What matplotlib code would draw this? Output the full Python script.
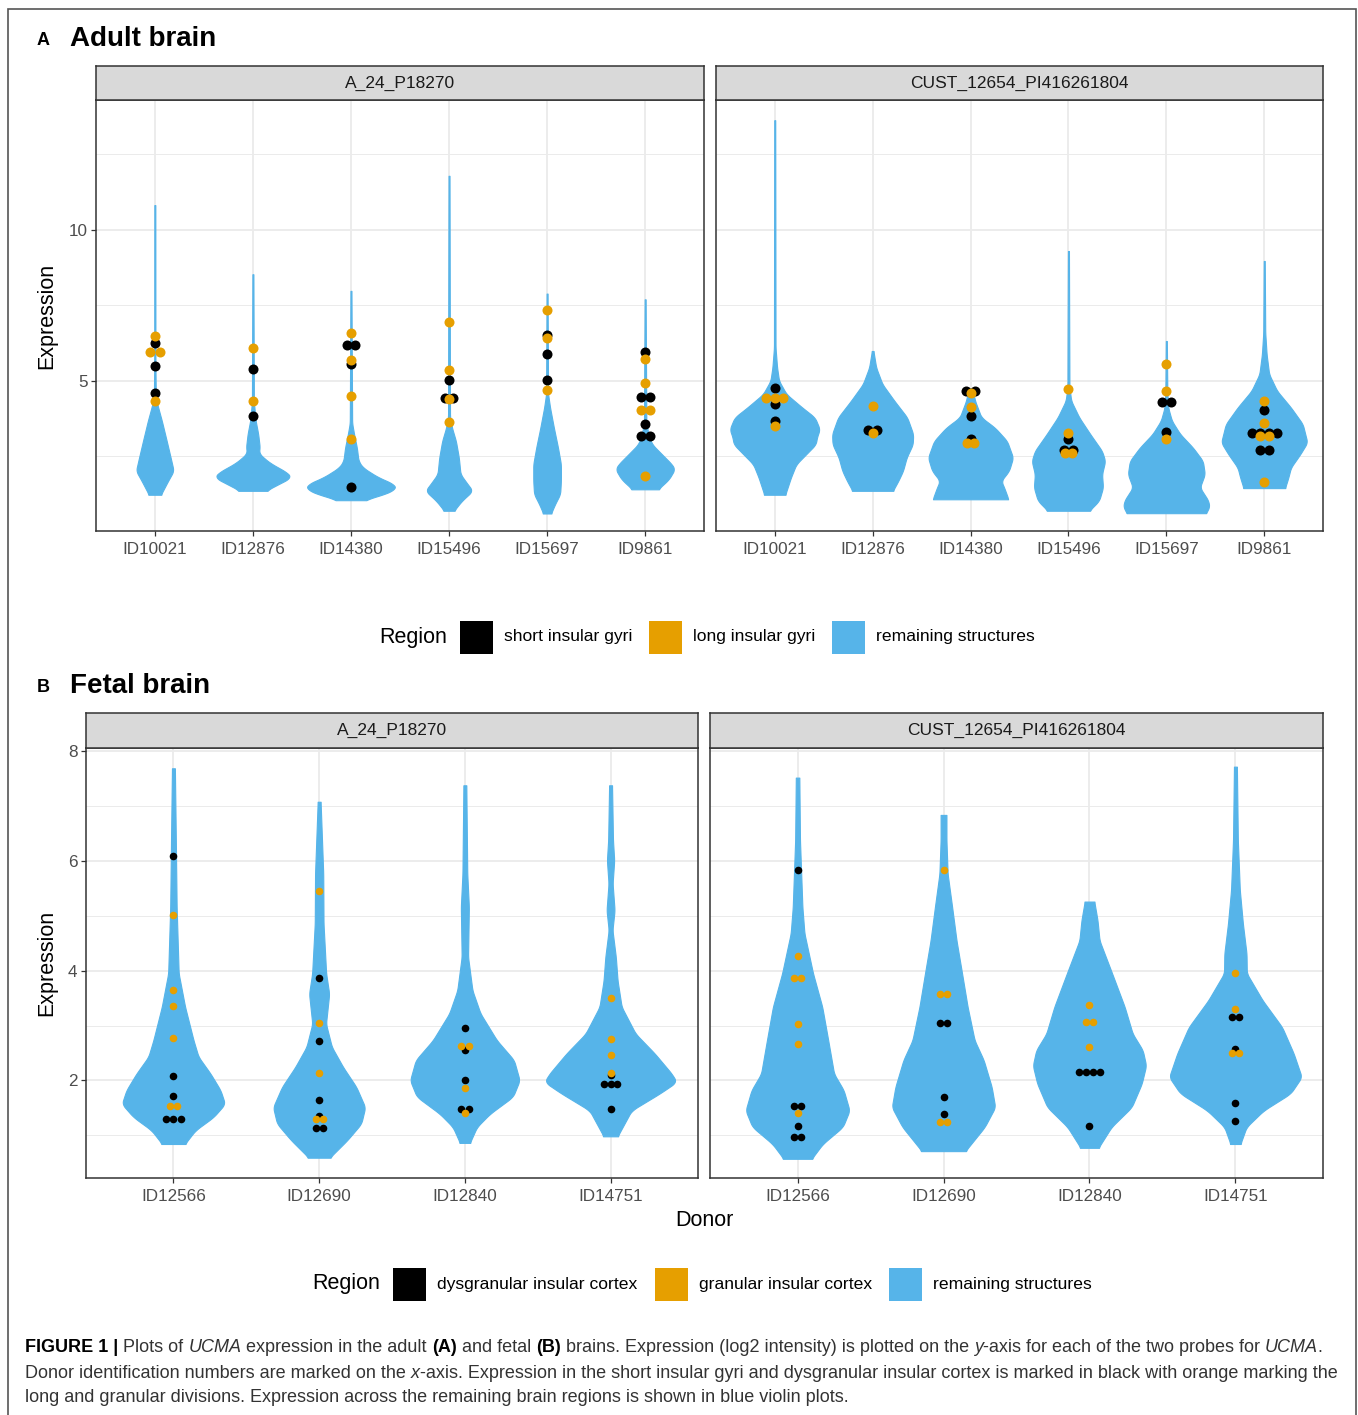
import matplotlib
matplotlib.use("Agg")
import matplotlib.pyplot as plt
from matplotlib.patches import Rectangle
import numpy as np

plt.rcParams['font.family'] = ['Liberation Sans', 'DejaVu Sans']

W, H = 1358, 1415
BLUE = '#56B4E9'
ORANGE = '#E69F00'
BLACK = '#000000'

probes = ["A_24_P18270", "CUST_12654_PI416261804"]
adult_donors = ["ID10021", "ID12876", "ID14380", "ID15496", "ID15697", "ID9861"]
fetal_donors = ["ID12566", "ID12690", "ID12840", "ID14751"]

# violin outlines: (expression, half width in category units)
adult_violin_p1 = [
    [(1.23, .061), (1.69, .135), (2.02, .192), (2.46, .161), (3.01, .121), (3.68, .071), (4.12, .034), (4.45, .01), (5.5, .006), (10.82, .005)],
    [(1.36, .131), (1.63, .29), (1.80, .393), (1.96, .353), (2.29, .171), (2.6, .06), (2.79, .07), (3.24, .054), (3.68, .028), (4.3, .01), (8.53, .005)],
    [(1.05, .12), (1.19, .29), (1.41, .458), (1.58, .444), (1.80, .282), (2.13, .121), (2.35, .077), (2.79, .06), (3.23, .032), (3.6, .012), (7.98, .005)],
    [(0.70, .05), (1.03, .131), (1.36, .242), (1.58, .19), (1.91, .117), (2.46, .10), (3.01, .07), (3.45, .03), (3.8, .01), (11.79, .005)],
    [(0.61, .04), (0.92, .081), (1.25, .133), (1.69, .141), (2.24, .141), (2.79, .111), (3.45, .069), (4.12, .03), (4.57, .01), (7.89, .005)],
    [(1.41, .131), (1.74, .242), (2.08, .303), (2.24, .272), (2.57, .171), (2.90, .071), (3.23, .034), (3.6, .012), (7.70, .005)],
]
adult_violin_p2 = [
    [(1.23, .107), (1.80, .165), (2.24, .22), (2.57, .32), (2.90, .42), (3.12, .43), (3.40, .46), (3.79, .41), (4.12, .28), (4.56, .12), (5.0, .044), (5.44, .024), (6.1, .008), (13.63, .005)],
    [(1.36, .206), (1.69, .262), (2.02, .31), (2.46, .347), (2.90, .41), (3.24, .414), (3.79, .353), (4.34, .222), (4.89, .10), (5.44, .036), (5.99, .008)],
    [(1.08, .387), (1.47, .343), (1.69, .313), (2.02, .393), (2.46, .434), (3.01, .373), (3.45, .25), (3.79, .11), (4.34, .046), (4.75, .02)],
    [(0.70, .212), (1.03, .313), (1.47, .353), (1.91, .343), (2.35, .375), (2.68, .343), (3.24, .222), (3.79, .11), (4.34, .028), (4.8, .01), (9.30, .005)],
    [(0.62, .40), (0.80, .44), (1.03, .43), (1.47, .343), (1.91, .393), (2.35, .373), (2.79, .272), (3.24, .141), (3.68, .056), (4.1, .02), (4.6, .01), (6.32, .005)],
    [(1.45, .212), (1.80, .246), (2.13, .272), (2.57, .367), (2.96, .44), (3.57, .393), (4.12, .272), (4.67, .131), (5.22, .05), (5.88, .024), (6.6, .01), (8.97, .005)],
]
fetal_violin_p1 = [
    [(0.84, .078), (1.09, .151), (1.33, .275), (1.57, .354), (1.82, .323), (2.12, .255), (2.43, .172), (2.73, .138), (3.34, .080), (3.95, .036), (5.16, .022), (6.38, .0165), (7.69, .01)],
    [(0.59, .072), (0.91, .193), (1.21, .289), (1.51, .316), (1.88, .255), (2.24, .165), (2.61, .087), (3.03, .047), (3.58, .069), (3.95, .048), (4.86, .030), (5.77, .028), (7.08, .01)],
    [(0.86, .034), (1.15, .083), (1.39, .172), (1.70, .33), (2.0, .376), (2.37, .337), (2.73, .22), (3.22, .107), (3.64, .052), (4.25, .022), (5.16, .0275), (5.77, .0165), (7.38, .01)],
    [(0.98, .048), (1.45, .144), (1.76, .337), (1.97, .454), (2.12, .42), (2.49, .303), (2.85, .172), (3.34, .076), (3.82, .048), (4.25, .036), (4.74, .013), (5.10, .0275), (5.59, .014), (6.01, .025), (6.38, .0165), (7.38, .01)],
]
fetal_violin_p2 = [
    [(0.57, .096), (0.84, .172), (1.15, .31), (1.45, .356), (1.82, .316), (2.12, .25), (2.73, .21), (3.34, .169), (3.95, .106), (4.68, .047), (5.16, .033), (6.38, .0165), (7.52, .012)],
    [(0.71, .149), (1.15, .282), (1.51, .354), (1.88, .33), (2.37, .275), (2.73, .213), (3.34, .165), (3.95, .127), (4.55, .089), (5.16, .059), (5.77, .028), (6.38, .02), (6.84, .02)],
    [(0.77, .061), (1.15, .151), (1.51, .289), (1.94, .358), (2.27, .388), (2.55, .365), (2.85, .296), (3.34, .241), (3.95, .155), (4.55, .069), (4.92, .055), (5.26, .033)],
    [(0.84, .034), (1.15, .076), (1.45, .193), (1.76, .378), (2.06, .454), (2.49, .399), (2.97, .32), (3.46, .186), (3.95, .078), (4.31, .076), (4.86, .051), (5.47, .03), (6.38, .0165), (7.72, .01)],
]

# insula samples: (expression, horizontal dodge)
adult_black_p1 = [
    [(6.25, 0), (5.50, 0), (4.61, 0)],
    [(5.39, 0), (3.83, 0)],
    [(6.18, -.045), (6.18, .045), (5.57, 0), (1.50, 0)],
    [(5.02, 0), (4.45, -.045), (4.45, .045)],
    [(6.52, 0), (5.88, 0), (5.02, 0)],
    [(5.94, 0), (4.48, -.045), (4.48, .045), (3.57, 0), (3.16, -.045), (3.16, .045)],
]
adult_orange_p1 = [
    [(6.47, 0), (5.94, -.05), (5.94, .05), (4.32, 0)],
    [(6.08, 0), (4.34, 0)],
    [(6.59, 0), (5.70, 0), (4.50, 0), (3.06, 0)],
    [(6.96, 0), (5.35, 0), (4.39, 0), (3.65, 0)],
    [(7.34, 0), (6.43, 0), (4.70, 0)],
    [(5.72, 0), (4.94, 0), (4.05, -.045), (4.05, .045), (1.84, 0)],
]
adult_black_p2 = [
    [(4.78, 0), (4.23, 0), (3.68, 0)],
    [(3.37, -.044), (3.37, .044)],
    [(4.65, -.045), (4.65, .045), (3.84, 0), (3.07, 0)],
    [(3.07, 0), (2.70, -.048), (2.70, .048)],
    [(4.30, -.045), (4.30, .045), (3.31, 0)],
    [(4.04, 0), (3.29, -.13), (3.29, -.045), (3.29, .045), (3.29, .13), (2.70, -.045), (2.70, .045)],
]
adult_orange_p2 = [
    [(4.43, -.085), (4.43, 0), (4.43, .085), (3.49, 0)],
    [(4.16, 0), (3.27, 0)],
    [(4.61, 0), (4.12, 0), (2.94, -.04), (2.94, .04)],
    [(4.72, 0), (3.29, 0), (2.61, -.04), (2.61, .04)],
    [(5.55, 0), (4.65, 0), (3.07, 0)],
    [(4.34, 0), (3.60, 0), (3.18, -.045), (3.18, .045), (1.66, 0)],
]
fetal_black_p1 = [
    [(6.09, 0), (2.08, 0), (1.71, 0), (1.29, -.049), (1.29, 0), (1.29, .049)],
    [(3.87, 0), (2.71, 0), (1.64, 0), (1.35, 0), (1.13, -.025), (1.13, .025)],
    [(2.96, 0), (2.56, 0), (2.00, 0), (1.48, -.025), (1.48, .025)],
    [(2.09, 0), (1.93, -.047), (1.93, 0), (1.93, .047), (1.48, 0)],
]
fetal_orange_p1 = [
    [(5.02, 0), (3.65, 0), (3.35, 0), (2.77, 0), (1.53, -.025), (1.53, .025)],
    [(5.45, 0), (3.05, 0), (2.14, 0), (1.29, -.025), (1.29, .025)],
    [(2.63, -.025), (2.63, .025), (1.87, 0), (1.41, 0)],
    [(3.51, 0), (2.75, 0), (2.47, 0), (2.13, 0)],
]
fetal_black_p2 = [
    [(5.83, 0), (1.53, -.025), (1.53, .025), (1.17, 0), (0.97, -.025), (0.97, .025)],
    [(3.04, -.025), (3.04, .025), (1.70, 0), (1.39, 0)],
    [(2.15, -.069), (2.15, -.023), (2.15, .023), (2.15, .069), (1.16, 0)],
    [(3.16, -.025), (3.16, .025), (2.58, 0), (1.59, 0), (1.26, 0)],
]
fetal_orange_p2 = [
    [(4.27, 0), (3.86, -.025), (3.86, .025), (3.03, 0), (2.67, 0), (1.41, 0)],
    [(5.83, 0), (3.58, -.025), (3.58, .025), (1.24, -.025), (1.24, .025)],
    [(3.37, 0), (3.06, -.025), (3.06, .025), (2.60, 0)],
    [(3.96, 0), (3.30, 0), (2.49, -.025), (2.49, .025)],
]

adult_legend = ["short insular gyri", "long insular gyri", "remaining structures"]
fetal_legend = ["dysgranular insular cortex", "granular insular cortex", "remaining structures"]

caption = [
    [("FIGURE 1 |", "b"), (" Plots of ", "r"), ("UCMA", "i"), (" expression in the adult ", "r"), ("(A)", "b"),
     (" and fetal ", "r"), ("(B)", "b"), (" brains. Expression (log2 intensity) is plotted on the ", "r"),
     ("y", "i"), ("-axis for each of the two probes for ", "r"), ("UCMA", "i"), (".", "r")],
    [("Donor identification numbers are marked on the ", "r"), ("x", "i"),
     ("-axis. Expression in the short insular gyri and dysgranular insular cortex is marked in black with orange marking the", "r")],
    [("long and granular divisions. Expression across the remaining brain regions is shown in blue violin plots.", "r")],
]


def fx(px):
    return px / W


def fy(py):
    return 1 - py / H


def px_axes(fig, x0, y0, x1, y1):
    return fig.add_axes([fx(x0), fy(y1), (x1 - x0) / W, (y1 - y0) / H])


def strip(fig, x0, y0, x1, y1, label):
    s = px_axes(fig, x0, y0, x1, y1)
    s.set_facecolor('#D9D9D9')
    s.set_xticks([])
    s.set_yticks([])
    for sp in s.spines.values():
        sp.set_color('#333333')
        sp.set_linewidth(1.1)
    s.text(0.5, 0.5, label, ha='center', va='center', fontsize=12.5, color='#1A1A1A', transform=s.transAxes)


def outline(prof, soften):
    # densify the read-off outline and round its corners a little
    prof = np.array(prof)
    ys = np.arange(prof[0, 0], prof[-1, 0], 0.005)
    ys = np.append(ys, prof[-1, 0])
    hw = np.interp(ys, prof[:, 0], prof[:, 1])
    k = max(int(soften / 0.005), 1)
    padded = np.concatenate([np.full(k, hw[0]), hw, np.full(k, hw[-1])])
    hw = np.convolve(padded, np.ones(2 * k + 1) / (2 * k + 1), mode='same')[k:-k]
    return ys, hw


def facet(ax, donors, violins, blacks, oranges, ylim, major, minor, size, soften, show_y):
    pos = np.arange(1, len(donors) + 1)
    for p, prof, bl, orn in zip(pos, violins, blacks, oranges):
        ys, hw = outline(prof, soften)
        ax.fill_betweenx(ys, p - hw, p + hw, facecolor=BLUE, edgecolor=BLUE, lw=0.8, zorder=2)
        for pts, col in ((bl, BLACK), (orn, ORANGE)):
            pts = np.array(pts)
            ax.scatter(p + pts[:, 1], pts[:, 0], s=size, color=col, lw=0, zorder=3)
    ax.set_xlim(0.4, len(donors) + 0.6)
    ax.set_ylim(*ylim)
    ax.set_xticks(pos)
    ax.set_xticklabels(donors)
    ax.set_yticks(major)
    ax.set_yticks(minor, minor=True)
    ax.set_axisbelow(True)
    ax.grid(which='major', color='#EBEBEB', lw=1.3)
    ax.grid(which='minor', axis='y', color='#EBEBEB', lw=0.7)
    ax.tick_params(axis='both', which='major', length=3.6, width=0.9, color='#333333',
                   labelsize=12.3, labelcolor='#4D4D4D', pad=2.5)
    ax.tick_params(axis='x', which='major', pad=4.5)
    ax.tick_params(which='minor', length=0)
    if not show_y:
        ax.tick_params(axis='y', which='major', length=0, labelleft=False)
    for sp in ax.spines.values():
        sp.set_color('#333333')
        sp.set_linewidth(1.1)
        sp.set_zorder(5)


def legend(fig, y, title_x, keys, labels):
    fig.text(fx(title_x), fy(y), "Region", fontsize=15.5, va='center', ha='left', color='black')
    for kx, col, lab in zip(keys, (BLACK, ORANGE, BLUE), labels):
        fig.add_artist(Rectangle((fx(kx), fy(y + 16.5)), 33 / W, 33 / H, transform=fig.transFigure,
                                 facecolor=col, edgecolor='none'))
        fig.text(fx(kx + 44), fy(y), lab, fontsize=12.6, va='center', ha='left', color='black')


fig = plt.figure(figsize=(W / 100, H / 100), dpi=100)

# outer frame
fig.add_artist(Rectangle((fx(8), -0.01), 1348 / W, fy(9) + 0.01, transform=fig.transFigure,
                         fill=False, edgecolor='#555555', lw=1.2))

# panel A: adult brain
fig.text(fx(37), fy(45), "A", fontsize=13, fontweight='bold', va='baseline', ha='left')
fig.text(fx(70), fy(46), "Adult brain", fontsize=20, fontweight='bold', va='baseline', ha='left')
a1 = px_axes(fig, 96, 100, 704, 531)
a2 = px_axes(fig, 716, 100, 1323, 531)
ylim_a = (0.03, 14.3)
facet(a1, adult_donors, adult_violin_p1, adult_black_p1, adult_orange_p1, ylim_a,
      [5, 10], [2.5, 7.5, 12.5], 52, 0.12, True)
facet(a2, adult_donors, adult_violin_p2, adult_black_p2, adult_orange_p2, ylim_a,
      [5, 10], [2.5, 7.5, 12.5], 52, 0.12, False)
strip(fig, 96, 66, 704, 100, probes[0])
strip(fig, 716, 66, 1323, 100, probes[1])
fig.text(fx(47), fy(315.5), "Expression", rotation=90, fontsize=15.5, va='center', ha='center')
legend(fig, 637, 379, [460, 649, 832], adult_legend)

# panel B: fetal brain
fig.text(fx(37), fy(692), "B", fontsize=13, fontweight='bold', va='baseline', ha='left')
fig.text(fx(70), fy(693), "Fetal brain", fontsize=20, fontweight='bold', va='baseline', ha='left')
b1 = px_axes(fig, 86, 748, 698, 1178)
b2 = px_axes(fig, 710, 748, 1323, 1178)
ylim_b = (0.22, 8.06)
facet(b1, fetal_donors, fetal_violin_p1, fetal_black_p1, fetal_orange_p1, ylim_b,
      [2, 4, 6, 8], [1, 3, 5, 7], 30, 0.07, True)
facet(b2, fetal_donors, fetal_violin_p2, fetal_black_p2, fetal_orange_p2, ylim_b,
      [2, 4, 6, 8], [1, 3, 5, 7], 30, 0.07, False)
strip(fig, 86, 713, 698, 748, probes[0])
strip(fig, 710, 713, 1323, 748, probes[1])
fig.text(fx(47), fy(963), "Expression", rotation=90, fontsize=15.5, va='center', ha='center')
fig.text(fx(704), fy(1221), "Donor", fontsize=15.5, va='center', ha='center')
legend(fig, 1284, 312, [393, 655, 889], fetal_legend)

# caption with mixed bold / italic runs
renderer = fig.canvas.get_renderer()


def run_style(style):
    kw = dict(color='#333333')
    if style == 'b':
        kw.update(fontweight='bold', color='black')
    elif style == 'i':
        kw.update(fontstyle='italic')
    return kw


def run_width(text, style, size):
    t1 = fig.text(0, 0, "|" + text + "|", fontsize=size, **run_style(style))
    t2 = fig.text(0, 0, "||", fontsize=size, **run_style(style))
    w = t1.get_window_extent(renderer).width - t2.get_window_extent(renderer).width
    t1.remove()
    t2.remove()
    return w


size = 12.0
w0 = sum(run_width(t, s, size) for t, s in caption[0])
size = size * 1303 / w0
for line, ypx in zip(caption, (1348, 1373, 1398)):
    x = 25.0
    for text, style in line:
        fig.text(fx(x), fy(ypx), text, fontsize=size, va='center', ha='left', **run_style(style))
        x += run_width(text, style, size)

fig.savefig("out.png", dpi=100)
